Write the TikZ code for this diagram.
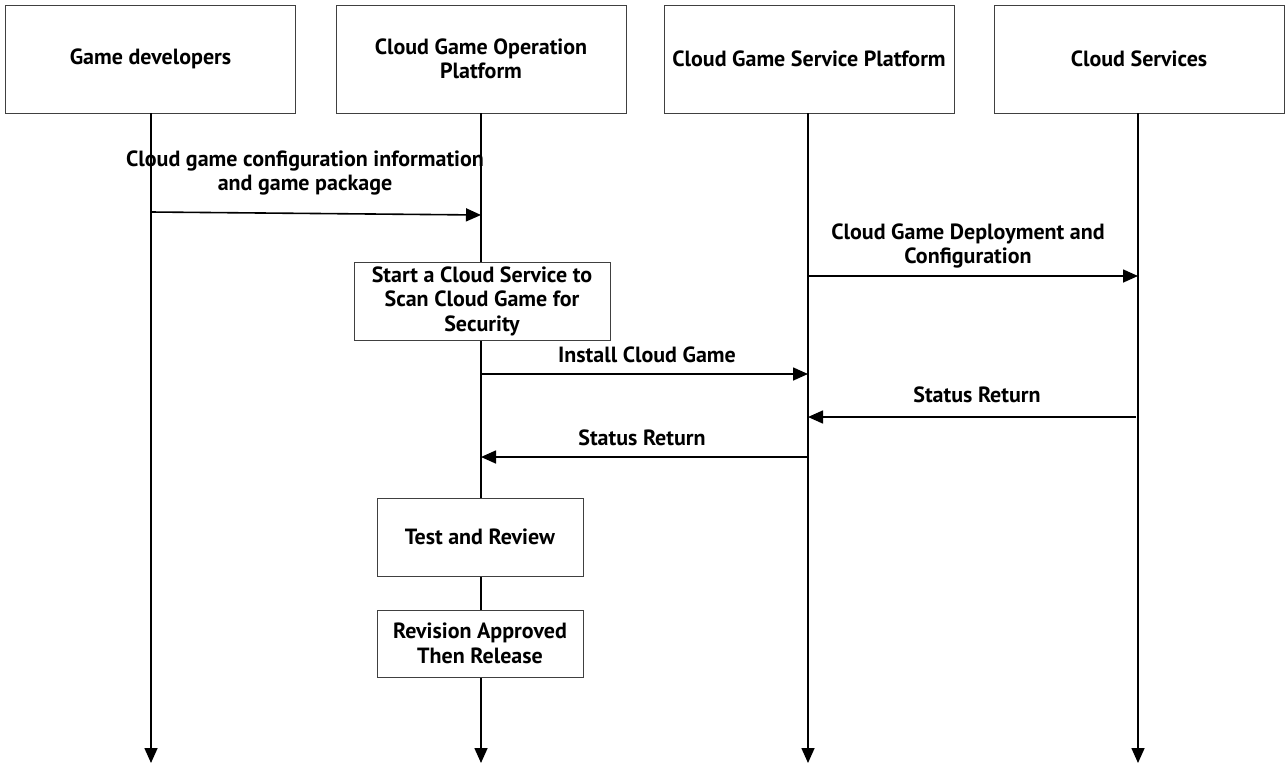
\documentclass[tikz,border=0pt]{standalone}
\usepackage{fontspec}
\setmainfont{PT Sans}
\usetikzlibrary{arrows.meta}
\begin{document}
\begin{tikzpicture}[x=1pt,y=-1pt,
  font=\bfseries\fontsize{22}{24.5}\selectfont,
  actor/.style={draw=black!75,line width=0.9pt,fill=white,minimum width=290pt,minimum height=108pt,align=center,inner sep=0pt},
  act/.style={draw=black!75,line width=0.9pt,fill=white,minimum width=206pt,align=center,inner sep=0pt},
  life/.style={line width=1.6pt,-{Triangle[length=15pt,width=13pt]}},
  msg/.style={line width=1.6pt,-{Triangle[length=15pt,width=13pt]}},
  lbl/.style={align=center,inner sep=0pt}]
\useasboundingbox (0,0) rectangle (1285,764);
% actors
\node[actor] (a1) at (150.5,59) {Game developers};
\node[actor] (a2) at (481,59) {Cloud Game Operation\\Platform};
\node[actor] (a3) at (809,59) {Cloud Game Service Platform};
\node[actor] (a4) at (1139,59) {Cloud Services};
% lifeline ends
\coordinate (e1) at (151,763);
\coordinate (e2) at (481,763);
\coordinate (e3) at (808,763);
\coordinate (e4) at (1138,763);
\draw[life] (a1.south -| e1) -- (e1);
\draw[life] (a2.south -| e2) -- (e2);
\draw[life] (a3.south -| e3) -- (e3);
\draw[life] (a4.south -| e4) -- (e4);
% activity boxes
\node[act,minimum width=256pt,minimum height=78pt] (scan) at (482,301) {Start a Cloud Service to\\Scan Cloud Game for\\Security};
\node[act,minimum height=78pt] (test) at (480,537) {Test and Review};
\node[act,minimum height=67pt] (rel) at (480,643.5) {Revision Approved\\Then Release};
% message anchors
\coordinate (m1s) at (151,212);
\coordinate (m1e) at (481,215);
\coordinate (m2s) at (808,276);
\coordinate (m2e) at (1138,276);
\coordinate (m3s) at (481,374);
\coordinate (m3e) at (808,374);
\coordinate (m4s) at (1136,417);
\coordinate (m4e) at (808,417);
\coordinate (m5s) at (808,457);
\coordinate (m5e) at (481,457);
\draw[msg] (m1s) -- (m1e);
\draw[msg] (m2s) -- (m2e);
\draw[msg] (m3s) -- (m3e);
\draw[msg] (m4s) -- (m4e);
\draw[msg] (m5s) -- (m5e);
% labels
\node[lbl] (l1) at (305,173) {Cloud game configuration information\\and game package};
\node[lbl] (l2) at (968,246) {Cloud Game Deployment and\\Configuration};
\node[lbl] (l3) at (647,355) {Install Cloud Game};
\node[lbl] (l4) at (977,395) {Status Return};
\node[lbl] (l5) at (642,438) {Status Return};
\end{tikzpicture}
\end{document}
